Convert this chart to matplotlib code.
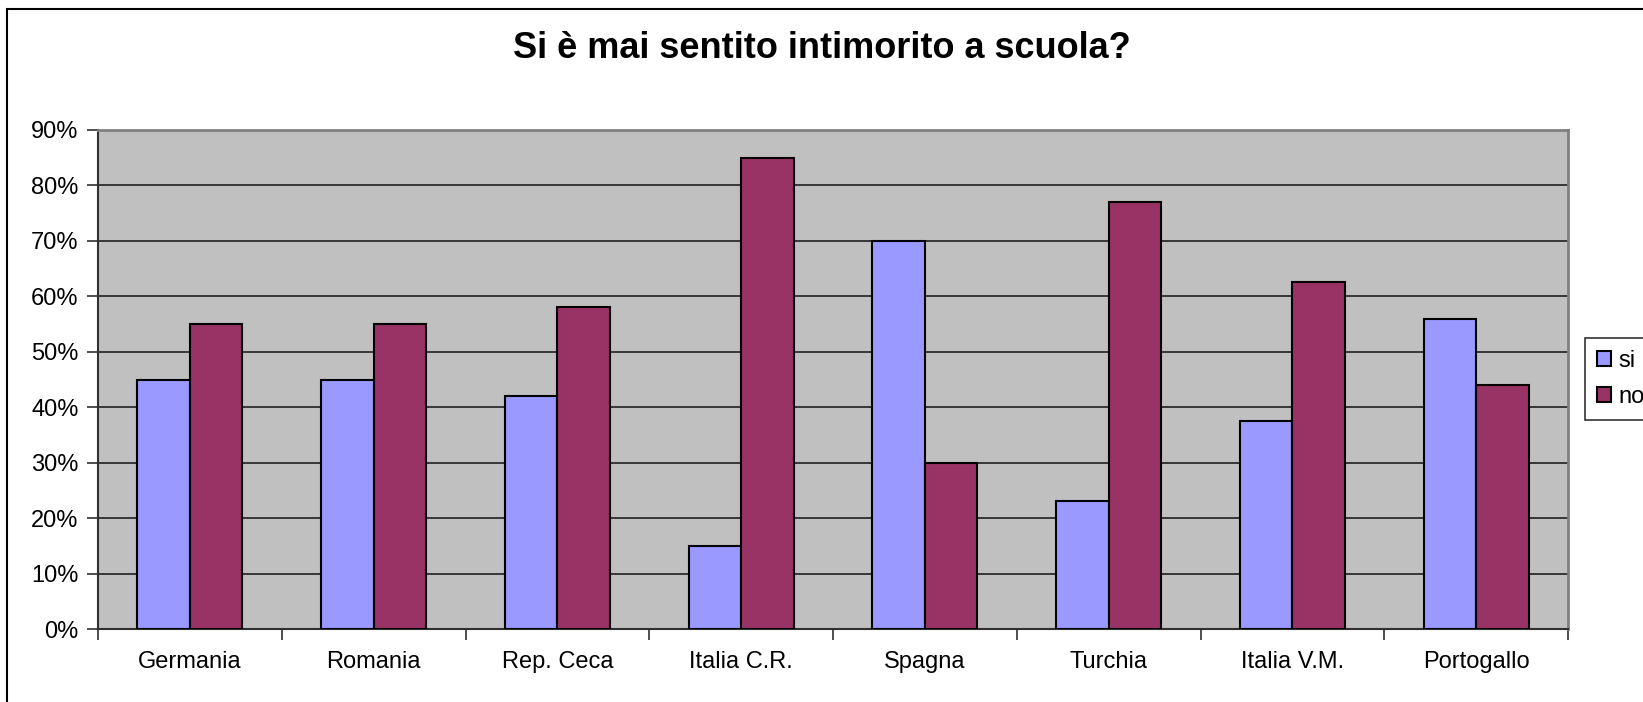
import matplotlib.pyplot as plt
from matplotlib.patches import Rectangle
import numpy as np

plt.rcParams['font.family'] = ['Liberation Sans', 'DejaVu Sans']

paesi = ['Germania', 'Romania', 'Rep. Ceca', 'Italia C.R.', 'Spagna',
         'Turchia', 'Italia V.M.', 'Portogallo']
si = [45, 45, 42, 15, 70, 23, 37.5, 56]
no = [55, 55, 58, 85, 30, 77, 62.5, 44]
y_ticks = [0, 10, 20, 30, 40, 50, 60, 70, 80, 90]

fig = plt.figure(figsize=(16.43, 7.02), dpi=100)
# outer chart border (right and bottom run off the picture)
fig.patches.append(Rectangle((7 / 1643, -0.2), 1.2, 1.2 - 9 / 702,
                             transform=fig.transFigure, fill=False,
                             edgecolor='black', linewidth=1.5))
ax = fig.add_axes([98 / 1643, 1 - 629 / 702, 1470 / 1643, 499 / 702])
ax.set_facecolor('#C0C0C0')

x = np.arange(len(paesi))
w = 0.286
ax.bar(x - w / 2, si, w, color='#9999FF', edgecolor='black', linewidth=1.5,
       label='si', zorder=3)
ax.bar(x + w / 2, no, w, color='#993366', edgecolor='black', linewidth=1.5,
       label='no', zorder=3)

ax.set_xlim(-0.5, len(paesi) - 0.5)
ax.set_ylim(0, 90)
ax.set_yticks(y_ticks)
ax.set_yticklabels([f'{v}%' for v in y_ticks], fontsize=17)
ax.yaxis.grid(True, color='#202020', linewidth=1.2, zorder=0)
ax.set_axisbelow(True)

ax.set_xticks(np.arange(len(paesi) + 1) - 0.5)
ax.set_xticklabels([])
ax.set_xticks(x, minor=True)
ax.set_xticklabels(paesi, minor=True, fontsize=17)
ax.tick_params(axis='x', which='minor', length=0, pad=16)
ax.tick_params(axis='x', which='major', length=8, width=1.2, color='#303030')
ax.tick_params(axis='y', length=8, width=1.2, color='#303030', pad=6)

for s in ['left', 'bottom']:
    ax.spines[s].set_color('#303030')
    ax.spines[s].set_linewidth(1.5)
for s in ['top', 'right']:
    ax.spines[s].set_color('#808080')
    ax.spines[s].set_linewidth(2)

fig.text(0.5, 1 - 48 / 702, 'Si è mai sentito intimorito a scuola?',
         ha='center', va='center', fontsize=26, fontweight='bold')

leg = fig.legend(loc='upper left', bbox_to_anchor=(1585 / 1643, 1 - 338 / 702),
                 fontsize=17, frameon=True, fancybox=False, handlelength=0.6,
                 handleheight=0.6, handletextpad=0.3, borderpad=0.5,
                 labelspacing=0.6, borderaxespad=0)
leg.get_frame().set_edgecolor('black')
leg.get_frame().set_linewidth(1.2)

fig.savefig('out.png', dpi=100)
